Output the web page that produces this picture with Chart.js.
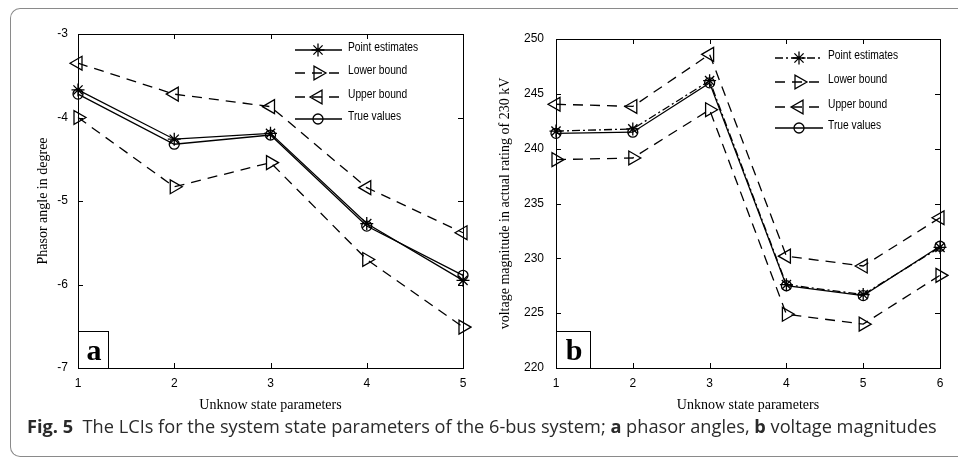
<!DOCTYPE html>
<html>
<head>
<meta charset="utf-8">
<script src="https://cdn.jsdelivr.net/npm/chart.js@4.4.0/dist/chart.umd.min.js"></script>
<style>
  html, body { margin: 0; background: #fff; }
  #page { position: relative; width: 958px; height: 457px; overflow: hidden; }
  #frame { position: absolute; left: 10px; top: 8px; width: 1200px; height: 449px; border: 1.5px solid #8a8a8a; border-right: none; border-radius: 10px 0 0 10px; box-sizing: border-box; }
  canvas { position: absolute; top: 0; }
  #c1 { left: 0; }
  #c2 { left: 478px; }
  #caption { position: absolute; left: 27px; top: 414px; font: 18.2px 'Open Sans'; color: #2a2a2a; white-space: nowrap; }
</style>
</head>
<body>
<div id="page">
<div id="frame"></div>
<canvas id="c1" width="480" height="420"></canvas>
<canvas id="c2" width="480" height="420"></canvas>
<div id="caption"><b>Fig. 5</b>&nbsp; The LCIs for the system state parameters of the 6-bus system; <b>a</b> phasor angles, <b>b</b> voltage magnitudes</div>
</div>

<script>
// panel a: phasor angles
const labelsA = ['1', '2', '3', '4', '5'];
const pointA = [-3.67, -4.26, -4.19, -5.27, -5.95];
const lowerA = [-4.00, -4.83, -4.54, -5.70, -6.51];
const upperA = [-3.35, -3.72, -3.87, -4.84, -5.38];
const trueA = [-3.72, -4.32, -4.21, -5.30, -5.89];
const ticksA = [-7, -6, -5, -4, -3];

// panel b: voltage magnitudes
const labelsB = ['1', '2', '3', '4', '5', '6'];
const pointB = [241.6, 241.8, 246.2, 227.6, 226.7, 231.0];
const lowerB = [239.0, 239.15, 243.55, 224.9, 224.0, 228.45];
const upperB = [244.05, 243.85, 248.6, 230.2, 229.3, 233.7];
const trueB = [241.4, 241.5, 246.0, 227.5, 226.6, 231.1];
const ticksB = [220, 225, 230, 235, 240, 245, 250];

const legendNames = ['Point estimates', 'Lower bound', 'Upper bound', 'True values'];

const DASH = [10, 7];
const DASHDOT = [8, 3, 2, 3];
const tickFont = { family: "'Liberation Sans', Arial", size: 12 };
const titleFont = { family: "'Liberation Serif', 'Times New Roman', serif", size: 14 };

function drawMarker(ctx, style, rotation, radius, x, y) {
  if (Chart.helpers && Chart.helpers.drawPoint) {
    Chart.helpers.drawPoint(ctx, { pointStyle: style, rotation: rotation, radius: radius, borderWidth: 1.3 }, x, y);
  } else {
    ctx.beginPath(); ctx.arc(x, y, radius, 0, Math.PI * 2); ctx.stroke();
  }
}

// frame, inward ticks, panel letter and legend
const decor = {
  id: 'decor',
  afterDatasetsDraw(chart, args, opts) {
    const { ctx, chartArea: a } = chart;
    const x = chart.scales.x, y = chart.scales.y;
    ctx.save();
    ctx.setLineDash([]);
    ctx.strokeStyle = '#000';
    ctx.lineWidth = 1;
    ctx.strokeRect(a.left + 0.5, a.top + 0.5, a.right - a.left, a.bottom - a.top);
    const L = 5;
    ctx.beginPath();
    x.ticks.forEach((t, i) => {
      const px = Math.round(x.getPixelForTick(i)) + 0.5;
      ctx.moveTo(px, a.bottom); ctx.lineTo(px, a.bottom - L);
      ctx.moveTo(px, a.top); ctx.lineTo(px, a.top + L);
    });
    y.ticks.forEach((t, i) => {
      const py = Math.round(y.getPixelForTick(i)) + 0.5;
      ctx.moveTo(a.left, py); ctx.lineTo(a.left + L, py);
      ctx.moveTo(a.right, py); ctx.lineTo(a.right - L, py);
    });
    ctx.stroke();

    // panel letter box
    const bw = opts.boxW, bh = 37;
    ctx.fillStyle = '#fff';
    ctx.fillRect(a.left + 1, a.bottom - bh, bw, bh);
    ctx.strokeRect(a.left + 0.5, a.bottom - bh + 0.5, bw, bh);
    ctx.fillStyle = '#000';
    ctx.font = "bold 30px 'Liberation Serif', serif";
    ctx.textAlign = 'center';
    ctx.textBaseline = 'alphabetic';
    ctx.fillText(opts.letter, a.left + bw / 2 + 1, a.bottom - 8);

    // legend (text squeezed horizontally like a narrow face)
    const lg = opts.legend;
    ctx.font = "12.5px 'Liberation Sans', Arial";
    ctx.textAlign = 'left';
    ctx.textBaseline = 'middle';
    lg.items.forEach((it, i) => {
      const ry = lg.rows[i];
      ctx.lineWidth = 1.3;
      ctx.setLineDash(it.dash);
      ctx.beginPath();
      ctx.moveTo(lg.x0, ry); ctx.lineTo(lg.x1, ry);
      ctx.stroke();
      ctx.setLineDash([]);
      ctx.fillStyle = 'rgba(0,0,0,0)';
      drawMarker(ctx, it.style, it.rotation, it.radius, lg.xm, ry);
      ctx.fillStyle = '#000';
      ctx.save();
      ctx.translate(lg.xt, ry - 2.5);
      ctx.scale(0.82, 1);
      ctx.fillText(legendNames[i], 0, 0);
      ctx.restore();
    });
    ctx.restore();
  }
};

function ds(data, dash, style, rotation, radius) {
  return {
    data: data,
    borderColor: '#000',
    borderWidth: 1.3,
    borderDash: dash,
    tension: 0,
    fill: false,
    pointStyle: style,
    pointRotation: rotation,
    pointRadius: radius,
    pointBorderColor: '#000',
    pointBackgroundColor: 'rgba(0,0,0,0)',
    pointBorderWidth: 1.3
  };
}

function makeChart(id, labels, series, yTicks, yTitle, yTitlePad, yTickPad, pad, letter, boxW, legend) {
  return new Chart(document.getElementById(id), {
    type: 'line',
    data: { labels: labels, datasets: series },
    plugins: [decor],
    options: {
      responsive: false,
      animation: false,
      layout: { padding: pad },
      plugins: {
        legend: { display: false },
        tooltip: { enabled: false },
        decor: { letter: letter, boxW: boxW, legend: legend }
      },
      scales: {
        x: {
          type: 'category',
          offset: false,
          grid: { display: false, drawTicks: false },
          border: { display: false },
          ticks: { font: tickFont, color: '#000', padding: 8, maxRotation: 0, autoSkip: false },
          title: { display: true, text: 'Unknow state parameters', font: titleFont, color: '#000', padding: { top: 0, bottom: 6.6 } },
          afterFit(s) { s.height = 52 - (pad.bottom || 0); }
        },
        y: {
          min: yTicks[0],
          max: yTicks[yTicks.length - 1],
          afterBuildTicks(s) { s.ticks = yTicks.map(v => ({ value: v })); },
          grid: { display: false, drawTicks: false },
          border: { display: false },
          ticks: { font: tickFont, color: '#000', padding: yTickPad },
          title: { display: true, text: yTitle, font: titleFont, color: '#000', padding: { top: yTitlePad, bottom: 0 } },
          afterFit(s) { s.width = 78; }
        }
      }
    }
  });
}

makeChart('c1', labelsA, [
  ds(upperA, DASH, 'triangle', -90, 8),
  ds(lowerA, DASH, 'triangle', 90, 8),
  ds(trueA, [], 'circle', 0, 5),
  ds(pointA, [], 'star', 0, 6.5)
], ticksA, 'Phasor angle in degree', 34.6, 10, { top: 34, right: 17, bottom: 0 }, 'a', 30, {
  x0: 295, x1: 342, xm: 318, xt: 348, rows: [50, 73, 97, 119],
  items: [
    { dash: [], style: 'star', rotation: 0, radius: 6.5 },
    { dash: DASH, style: 'triangle', rotation: 90, radius: 8 },
    { dash: DASH, style: 'triangle', rotation: -90, radius: 8 },
    { dash: [], style: 'circle', rotation: 0, radius: 5 }
  ]
});

makeChart('c2', labelsB, [
  ds(upperB, DASH, 'triangle', -90, 8),
  ds(lowerB, DASH, 'triangle', 90, 8),
  ds(trueB, [], 'circle', 0, 5),
  ds(pointB, DASHDOT, 'star', 0, 6.5)
], ticksB, 'voltage magnitude in actual rating of 230 kV', 18.6, 12, { top: 39, right: 18, bottom: 0 }, 'b', 34, {
  x0: 297, x1: 345, xm: 321, xt: 350, rows: [58, 82, 107, 128],
  items: [
    { dash: DASHDOT, style: 'star', rotation: 0, radius: 6.5 },
    { dash: DASH, style: 'triangle', rotation: 90, radius: 8 },
    { dash: DASH, style: 'triangle', rotation: -90, radius: 8 },
    { dash: [], style: 'circle', rotation: 0, radius: 5 }
  ]
});
</script>
</body>
</html>
